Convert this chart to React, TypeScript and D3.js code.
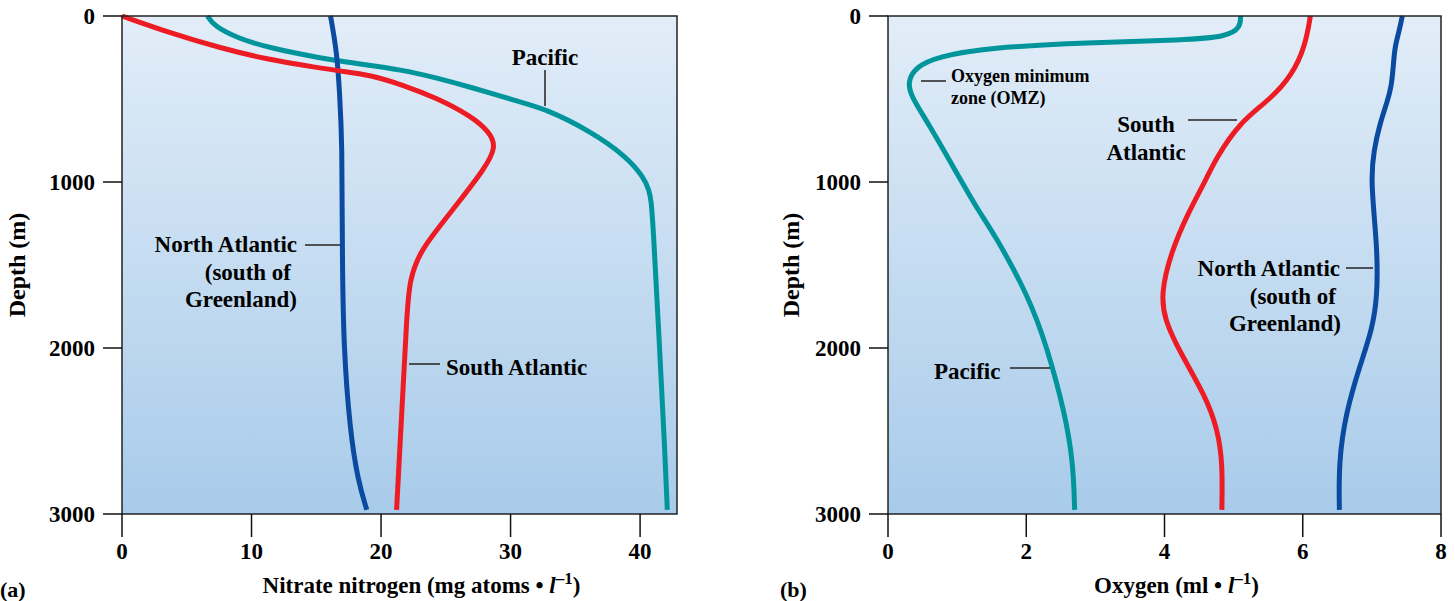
import React from "react";
import * as d3 from "d3";

// depth (m) / value pairs
const depthTicks = [0, 1000, 2000, 3000];
const nitrateTicks = [0, 10, 20, 30, 40];
const oxygenTicks = [0, 2, 4, 6, 8];

const nitratePacific = [
  [6.6, 0], [7.1, 60], [8.9, 133], [11.4, 193], [15.3, 253], [17.8, 283], [21.7, 325],
  [24.3, 373], [26.9, 428], [30.7, 518], [32.7, 560], [36.1, 690], [39.0, 849],
  [40.3, 975], [40.7, 1050], [40.85, 1110], [41.0, 1250], [41.5, 1994], [41.9, 2596],
  [42.1, 2975],
];
const nitrateSouthAtl = [
  [0, 0], [3.7, 102], [7.6, 193], [11.4, 265], [15.3, 313], [16.8, 331], [19.2, 355],
  [21.7, 416], [24.3, 494], [26.9, 600], [28.4, 700], [28.9, 790], [28.0, 920],
  [25.8, 1140], [24.6, 1260], [23.0, 1420], [22.2, 1590], [22.0, 1789], [21.6, 2392],
  [21.2, 2975],
];
const nitrateNorthAtl = [
  [16.1, 0], [16.6, 223], [16.8, 464], [17.0, 765], [17.0, 1392], [17.1, 1994],
  [17.6, 2494], [18.2, 2795], [18.9, 2975],
];

const oxygenPacific = [
  [5.1, 0], [5.1, 70], [4.9, 125], [4.3, 145], [2.89, 160], [1.45, 190], [0.72, 245],
  [0.4, 307], [0.28, 398], [0.34, 488], [0.58, 645], [0.97, 928], [1.3, 1169],
  [1.53, 1307], [2.04, 1693], [2.3, 1994], [2.56, 2392], [2.68, 2693], [2.7, 2975],
];
const oxygenSouthAtl = [
  [6.11, 0], [6.04, 175], [5.85, 355], [5.52, 506], [5.09, 639], [4.73, 867], [4.6, 988],
  [4.34, 1187], [4.09, 1428], [3.95, 1669], [4.0, 1831], [4.23, 2030], [4.6, 2295],
  [4.77, 2494], [4.84, 2693], [4.83, 2975],
];
const oxygenNorthAtl = [
  [7.44, 0], [7.4, 84], [7.33, 187], [7.31, 307], [7.28, 428], [7.23, 506], [7.11, 657],
  [7.03, 807], [6.98, 988], [7.08, 1392], [7.08, 1693], [7.0, 1892], [6.84, 2090],
  [6.62, 2392], [6.52, 2693], [6.53, 2975],
];

const RED = "#ed1c24";
const TEAL = "#00959b";
const BLUE = "#0a4aa0";
const FONT = "'Liberation Serif', 'Times New Roman', serif";

const yScale = d3.scaleLinear().domain([0, 3000]).range([16, 514]);

function Panel({ x, xTicks, series, title, tag, tagX, gradId, titleShift, depthOffset }) {
  const [x0, x1] = x.range();
  const line = d3
    .line()
    .x((p) => x(p[0]))
    .y((p) => yScale(p[1]))
    .curve(d3.curveBasis);
  const y0 = yScale(0), y1 = yScale(3000);
  return (
    <g fontFamily={FONT} fontWeight="bold">
      <rect x={x0} y={y0} width={x1 - x0} height={y1 - y0} fill={`url(#${gradId})`} />
      {series.map((s, i) => (
        <path key={i} d={line(s.data)} fill="none" stroke={s.color} strokeWidth={5} />
      ))}
      <rect x={x0} y={y0} width={x1 - x0} height={y1 - y0} fill="none" stroke="#222" strokeWidth={1.5} />
      {depthTicks.map((t) => (
        <g key={t}>
          <line x1={x0 - 19} x2={x0} y1={yScale(t)} y2={yScale(t)} stroke="#111" strokeWidth={1.5} />
          <text x={x0 - 27} y={yScale(t)} dy="0.35em" textAnchor="end" fontSize={23}>{t}</text>
        </g>
      ))}
      {xTicks.map((t) => (
        <g key={t}>
          <line x1={x(t)} x2={x(t)} y1={y1} y2={y1 + 23} stroke="#111" strokeWidth={1.5} />
          <text x={x(t)} y={y1 + 45} textAnchor="middle" fontSize={23}>{t}</text>
        </g>
      ))}
      <text
        transform={`translate(${x0 - depthOffset},${(y0 + y1) / 2}) rotate(-90)`}
        textAnchor="middle"
        dy="0.35em"
        fontSize={24}
      >
        Depth (m)
      </text>
      <text x={(x0 + x1) / 2 + titleShift} y={593} textAnchor="middle" fontSize={23}>
        {title}
        <tspan fontStyle="italic"> l</tspan>
        <tspan dy={-9} fontSize={17}>–1</tspan>
        <tspan dy={9}>)</tspan>
      </text>
      <text x={tagX} y={597} fontSize={22}>{tag}</text>
    </g>
  );
}

function Label({ lines, x, y, anchor = "middle", size = 23, lh = 27.5 }) {
  return (
    <text fontFamily={FONT} fontWeight="bold" fontSize={size} textAnchor={anchor}>
      {lines.map((l, i) => (
        <tspan key={i} x={l[1] !== undefined ? l[1] : x} y={y + i * lh}>{l[0]}</tspan>
      ))}
    </text>
  );
}

function Tick({ x1, x2, y1, y2 }) {
  return <line x1={x1} x2={x2} y1={y1} y2={y2} stroke="#222" strokeWidth={1.5} />;
}

export default function App() {
  const xA = d3.scaleLinear().domain([0, 42.85]).range([122, 677]);
  const xB = d3.scaleLinear().domain([0, 8]).range([888, 1441]);
  return (
    <svg width={1455} height={601} style={{ position: "absolute", left: 0, top: 0, background: "#fff" }}>
      <defs>
        <linearGradient id="bgA" x1="0" y1="0" x2="0" y2="1">
          <stop offset="0" stopColor="#e2edf8" />
          <stop offset="1" stopColor="#a8cbea" />
        </linearGradient>
        <linearGradient id="bgB" x1="0" y1="0" x2="0" y2="1">
          <stop offset="0" stopColor="#e2edf8" />
          <stop offset="1" stopColor="#a8cbea" />
        </linearGradient>
      </defs>
      <Panel
        x={xA}
        xTicks={nitrateTicks}
        gradId="bgA"
        title="Nitrate nitrogen (mg atoms •"
        tag="(a)"
        tagX={0}
        titleShift={22}
        depthOffset={105}
        series={[
          { data: nitratePacific, color: TEAL },
          { data: nitrateNorthAtl, color: BLUE },
          { data: nitrateSouthAtl, color: RED },
        ]}
      />
      <Panel
        x={xB}
        xTicks={oxygenTicks}
        gradId="bgB"
        title="Oxygen (ml •"
        tag="(b)"
        tagX={780}
        titleShift={12}
        depthOffset={97}
        series={[
          { data: oxygenPacific, color: TEAL },
          { data: oxygenSouthAtl, color: RED },
          { data: oxygenNorthAtl, color: BLUE },
        ]}
      />
      {/* panel a labels */}
      <Label lines={[["Pacific"]]} x={545} y={65} />
      <Tick x1={545} x2={545} y1={70} y2={106} />
      <Label lines={[["North Atlantic", 297], ["(south of", 291], ["Greenland)", 297]]} x={297} y={252} anchor="end" />
      <Tick x1={305} x2={340} y1={245} y2={245} />
      <Label lines={[["South Atlantic"]]} x={446} y={375} anchor="start" />
      <Tick x1={409} x2={440} y1={364} y2={364} />
      {/* panel b labels */}
      <Label lines={[["Oxygen minimum"], ["zone (OMZ)"]]} x={951} y={82} anchor="start" size={18} lh={22} />
      <Tick x1={921} x2={946} y1={81} y2={81} />
      <Label lines={[["South"], ["Atlantic"]]} x={1146} y={132} />
      <Tick x1={1188} x2={1237} y1={120} y2={120} />
      <Label lines={[["North Atlantic", 1340], ["(south of", 1336], ["Greenland)", 1341]]} x={1340} y={276} anchor="end" />
      <Tick x1={1346} x2={1373} y1={268} y2={268} />
      <Label lines={[["Pacific"]]} x={934} y={379} anchor="start" />
      <Tick x1={1010} x2={1050} y1={368} y2={368} />
    </svg>
  );
}
